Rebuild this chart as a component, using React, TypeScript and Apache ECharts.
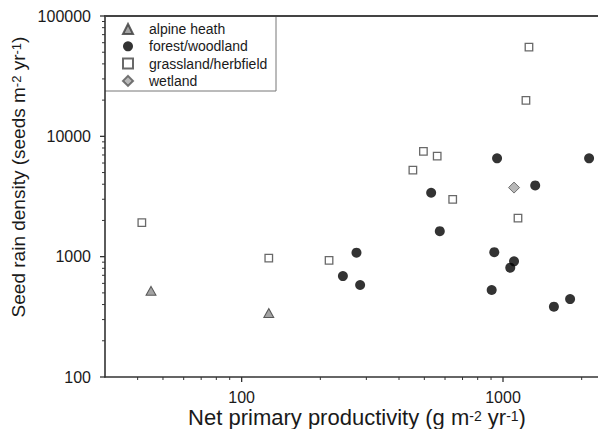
import React, { useEffect, useRef } from "react";
import * as echarts from "echarts";

// ---- data ----
const seriesNames = ["alpine heath", "forest/woodland", "grassland/herbfield", "wetland"];

const alpineNpp = [45, 127];
const alpineSeed = [520, 340];

const forestNpp = [949, 2135, 1328, 531, 573, 275, 244, 284, 926, 1102, 1066, 905, 1566, 1806];
const forestSeed = [6560, 6560, 3910, 3400, 1630, 1080, 690, 581, 1090, 914, 810, 528, 384, 444];

const grassNpp = [1257, 1224, 496, 560, 452, 642, 1141, 216, 41.5, 127];
const grassSeed = [55200, 19900, 7500, 6860, 5245, 2995, 2094, 932, 1917, 974];

const wetNpp = [1102];
const wetSeed = [3750];

const X_MIN = 30;
const X_MAX = 3000;
const Y_MIN = 100;
const Y_MAX = 100000;

const xMajorTicks = [100, 1000];
const xMinorTicks = [40, 50, 60, 70, 80, 90, 200, 300, 400, 500, 600, 700, 800, 900, 2000];
const yMajorTicks = [100, 1000, 10000, 100000];
const yMinorTicks = [
  200, 300, 400, 500, 600, 700, 800, 900,
  2000, 3000, 4000, 5000, 6000, 7000, 8000, 9000,
  20000, 30000, 40000, 50000, 60000, 70000, 80000, 90000,
];

const pairs = (xs: number[], ys: number[]) => xs.map((x, i) => [x, ys[i]]);

const FONT = "'Liberation Sans', Arial, sans-serif";
const TEXT = "#1a1a1a";
const AXIS = "#333333";

// tick marks drawn through the axes' own scales (api.coord)
const tickSeries = (values: number[], dir: "x" | "y", len: number, width: number) => ({
  type: "custom",
  xAxisIndex: 0,
  yAxisIndex: 0,
  silent: true,
  clip: false,
  z: 5,
  data: values.map((v) => (dir === "x" ? [v, Y_MIN] : [X_MIN, v])),
  renderItem: (_params: any, api: any) => {
    const p = api.coord([api.value(0), api.value(1)]);
    const shape =
      dir === "x"
        ? { x1: p[0], y1: p[1], x2: p[0], y2: p[1] + len }
        : { x1: p[0] - len, y1: p[1], x2: p[0], y2: p[1] };
    return { type: "line", shape, style: { stroke: AXIS, lineWidth: width } };
  },
});

export default function App() {
  const ref = useRef<HTMLDivElement>(null);

  useEffect(() => {
    if (!ref.current) return;
    const chart = echarts.init(ref.current, undefined, { renderer: "svg" });

    const labelFmt = (v: number) => String(Math.round(v));

    const option: any = {
      animation: false,
      backgroundColor: "#ffffff",
      grid: { left: 105, top: 16, right: -29.7, bottom: 52, outerBoundsMode: "none" },
      xAxis: [
        {
          type: "log",
          position: "bottom",
          min: X_MIN,
          max: X_MAX,
          axisLine: { show: true, onZero: false, lineStyle: { color: AXIS, width: 1.6 } },
          axisTick: { show: false },
          axisLabel: {
            customValues: xMajorTicks,
            formatter: labelFmt,
            margin: 12.5,
            fontFamily: FONT,
            fontSize: 16,
            color: TEXT,
          },
          splitLine: { show: false },
        },
        {
          type: "log",
          position: "top",
          min: X_MIN,
          max: X_MAX,
          axisLine: { show: true, onZero: false, lineStyle: { color: "#444444", width: 2 } },
          axisTick: { show: false },
          axisLabel: { show: false },
          splitLine: { show: false },
        },
      ],
      yAxis: [
        {
          type: "log",
          min: Y_MIN,
          max: Y_MAX,
          axisLine: { show: true, onZero: false, lineStyle: { color: AXIS, width: 1.6 } },
          axisTick: { show: false },
          axisLabel: {
            customValues: yMajorTicks,
            formatter: labelFmt,
            margin: 14,
            fontFamily: FONT,
            fontSize: 16,
            color: TEXT,
          },
          splitLine: { show: false },
        },
      ],
      legend: {
        show: true,
        orient: "vertical",
        left: 122,
        top: 22,
        padding: 0,
        itemWidth: 10,
        itemHeight: 10,
        itemGap: 3.3,
        selectedMode: false,
        data: seriesNames,
        textStyle: {
          fontFamily: FONT,
          fontSize: 14,
          color: TEXT,
          lineHeight: 14,
          padding: [0, 0, 0, 11],
        },
      },
      series: [
        {
          type: "scatter",
          name: seriesNames[0],
          symbol: "triangle",
          symbolSize: [10, 9],
          itemStyle: { color: "#8c8c8c", borderColor: "#3a3a3a", borderWidth: 1 },
          data: pairs(alpineNpp, alpineSeed),
        },
        {
          type: "scatter",
          name: seriesNames[1],
          symbol: "circle",
          symbolSize: 10,
          itemStyle: { color: "#000000" },
          data: pairs(forestNpp, forestSeed),
        },
        {
          type: "scatter",
          name: seriesNames[2],
          symbol: "rect",
          symbolSize: 7.5,
          itemStyle: { color: "#ffffff", borderColor: "#444444", borderWidth: 1.3 },
          data: pairs(grassNpp, grassSeed),
        },
        {
          type: "scatter",
          name: seriesNames[3],
          symbol: "diamond",
          symbolSize: 11,
          itemStyle: { color: "#a6a6a6", borderColor: "#555555", borderWidth: 1 },
          data: pairs(wetNpp, wetSeed),
        },
        tickSeries(xMajorTicks, "x", 5, 1.3),
        tickSeries(xMinorTicks, "x", 3, 1),
        tickSeries(yMajorTicks, "y", 5, 1.3),
        tickSeries(yMinorTicks, "y", 3, 1),
      ],
      graphic: [
        {
          type: "polyline",
          shape: { points: [[105, 91], [276, 91], [276, 16]] },
          style: { stroke: "#777777", lineWidth: 1, fill: "none" },
          silent: true,
        },
        {
          type: "text",
          x: 357,
          y: 417,
          silent: true,
          style: {
            text: "{a|Net primary productivity (g m}{s|-2}{a| yr}{s|-1}{a|)}",
            align: "center",
            verticalAlign: "middle",
            fill: TEXT,
            rich: {
              a: { fontFamily: FONT, fontSize: 22, lineHeight: 16, fill: TEXT },
              s: { fontFamily: FONT, fontSize: 14, lineHeight: 10, verticalAlign: "top", fill: TEXT },
            },
          },
        },
        {
          type: "text",
          x: 18,
          y: 177,
          rotation: Math.PI / 2,
          silent: true,
          style: {
            text: "{a|Seed rain density (seeds m}{s|-2}{a| yr}{s|-1}{a|)}",
            align: "center",
            verticalAlign: "middle",
            fill: TEXT,
            rich: {
              a: { fontFamily: FONT, fontSize: 19, lineHeight: 16, fill: TEXT },
              s: { fontFamily: FONT, fontSize: 13, lineHeight: 10, verticalAlign: "top", fill: TEXT },
            },
          },
        },
      ],
    };

    chart.setOption(option);
    return () => chart.dispose();
  }, []);

  return (
    <div
      ref={ref}
      style={{ position: "absolute", left: 0, top: 0, width: 598, height: 429 }}
    />
  );
}
